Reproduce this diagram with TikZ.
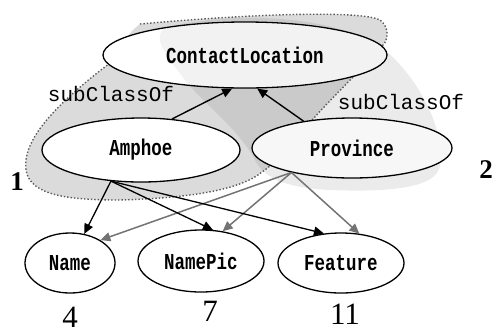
\documentclass[tikz,border=0pt]{standalone}
\usepackage{graphicx}
\usepackage{fontspec}
\setmainfont{Liberation Serif}
\setmonofont{Liberation Mono}
\usetikzlibrary{shapes.geometric,arrows.meta}

\newcommand{\cname}[1]{\scalebox{1}[1.3]{#1}}

\tikzset{
  cls/.style={ellipse,draw,line width=1.3pt,fill=white,inner sep=0pt,
    font=\ttfamily\bfseries\fontsize{17.5}{20}\selectfont},
  isa/.style={-{Triangle[length=10pt,width=9pt]},line width=1.4pt},
  prop/.style={-{Triangle[length=10pt,width=9pt]},line width=1.3pt},
  gprop/.style={prop,line width=1.5pt,draw=gray!90!black,color=gray!90!black},
  num/.style={font=\fontsize{31}{34}\selectfont},
}

\begin{document}
\begin{tikzpicture}[x=1pt,y=-1pt]
        \useasboundingbox (0,0) rectangle (495,333);
        % Groups
        \def\grpone{(140,24) .. controls (250,14) and (360,10) .. (380,20)
          .. controls (390,28) and (388,40) .. (383,45)
          .. controls (370,60) and (345,85) .. (325,106)
          .. controls (300,132) and (280,160) .. (262,172)
          .. controls (240,190) and (190,198) .. (120,200)
          .. controls (70,200) and (30,196) .. (26,170)
          .. controls (22,140) and (55,105) .. (110,63)
          .. controls (120,50) and (125,35) .. (140,24) -- cycle}
        \def\grptwo{(165,28) .. controls (230,10) and (340,15) .. (385,50)
          .. controls (420,80) and (445,130) .. (440,165)
          .. controls (438,190) and (380,192) .. (330,190)
          .. controls (290,188) and (265,180) .. (255,160)
          .. controls (240,130) and (195,95) .. (185,80)
          .. controls (170,60) and (150,38) .. (165,28) -- cycle}
        \fill[black,fill opacity=0.14] \grpone;
        \fill[black,fill opacity=0.08] \grptwo;
        \draw[gray!70!black,dotted,line width=1.4pt] (110,63) .. controls (55,105) and (22,140) .. (26,170)
          .. controls (30,196) and (70,200) .. (120,200)
          .. controls (190,198) and (240,190) .. (262,172)
          .. controls (280,160) and (300,132) .. (325,106)
          .. controls (345,85) and (370,60) .. (383,45);
        \draw[gray!70!black,dotted,line width=1.4pt] (140,24) .. controls (250,14) and (360,10) .. (380,20)
          .. controls (390,28) and (388,40) .. (383,45);
        % Classes
        \node[cls,minimum width=284pt,minimum height=66pt] (contact) at (245,55) {\cname{ContactLocation}};
        \begin{scope}
          \clip (245,55) ellipse (141pt and 32pt);
          \fill[black,fill opacity=0.05] \grptwo;
        \end{scope}
        \node[cls,minimum width=198pt,minimum height=64pt] (amphoe) at (141,150) {\cname{Amphoe}};
        \node[cls,fill=gray!6,minimum width=200pt,minimum height=60pt] (province) at (352,148) {\cname{Province}};
        \node[cls,minimum width=90pt,minimum height=60pt] (name) at (70,263) {\cname{Name}};
        \node[cls,minimum width=126pt,minimum height=62pt] (namepic) at (201,261) {\cname{NamePic}};
        \node[cls,minimum width=126pt,minimum height=60pt] (feature) at (341,263) {\cname{Feature}};
        % Labels
        \node[font=\ttfamily\fontsize{21}{24}\selectfont] (subl) at (111,94) {subClassOf};
        \node[font=\ttfamily\fontsize{21}{24}\selectfont] (subr) at (401,102) {subClassOf};
        \node[font=\bfseries\fontsize{27}{30}\selectfont] (one) at (17,182) {1};
        \node[font=\bfseries\fontsize{27}{30}\selectfont] (two) at (486,170) {2};
        \node[num] (nfour) at (70,317) {4};
        \node[num] (nseven) at (210,311) {7};
        \node[num] (neleven) at (345,314) {11};
        % Arrows
        \draw[isa] (amphoe.45) -- (contact.249);
        \draw[isa] (province.151) -- (contact.-70);
        \draw[gprop] (province.-158) -- (name.37);
        \draw[gprop] (province.-158) -- (namepic.54);
        \draw[gprop] (province.-158) -- (feature.58);
        \draw[prop] (amphoe.-134) -- (name.64);
        \draw[prop] (amphoe.-134) -- (namepic.69);
        \draw[prop] (amphoe.-134) -- (feature.120);
\end{tikzpicture}
\end{document}
